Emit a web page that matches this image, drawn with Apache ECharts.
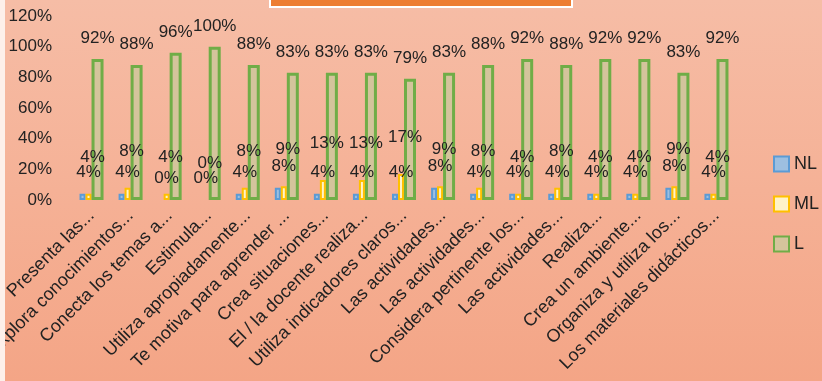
<!DOCTYPE html>
<html>
<head>
<meta charset="utf-8">
<script src="https://cdn.jsdelivr.net/npm/echarts@6/dist/echarts.min.js"></script>
<style>html,body{margin:0;padding:0;background:#fff}#c{width:822px;height:381px}</style>
</head>
<body>
<div id="c"></div>
<script>
const categories = ["Presenta las...","Explora conocimientos...","Conecta los temas a...","Estimula...","Utiliza apropiadamente...","Te motiva para aprender ...","Crea situaciones...","El / la docente realiza...","Utiliza indicadores claros...","Las actividades...","Las actividades...","Considera pertinente los...","Las actividades...","Realiza...","Crea un ambiente...","Organiza y utiliza los...","Los materiales didácticos..."];
const seriesNames = ["NL","ML","L"];
const nlValues = [4,4,0,0,4,8,4,4,4,8,4,4,4,4,4,8,4];
const mlValues = [4,8,4,0,8,9,13,13,17,9,8,4,8,4,4,9,4];
const lValues  = [92,88,96,100,88,83,83,83,79,83,88,92,88,92,92,83,92];
const yTicks = [0,20,40,60,80,100,120];

const FONT = "Liberation Sans";
const TXT = "#222";
const chart = echarts.init(document.getElementById('c'), null, {renderer:'canvas'});
function lbl(dist, off){
  return {show:true, position:'top', distance:dist, offset:off, formatter:'{c}%', color:TXT, fontFamily:FONT, fontSize:17};
}
// zero-height bars draw no outline (as in the reference), label still shown
function items(arr){
  return arr.map(v => v === 0 ? {value:v, itemStyle:{borderWidth:0, color:'rgba(0,0,0,0)'}} : v);
}
chart.setOption({
  animation:false,
  backgroundColor:{type:'linear',x:0,y:0,x2:0,y2:1,colorStops:[{offset:0,color:'#f6bda6'},{offset:1,color:'#f4a586'}]},
  graphic:[
    {type:'rect', shape:{x:0,y:0,width:5,height:381}, style:{fill:'#fdf0ea'}, z:100},
    {type:'rect', shape:{x:270,y:-6,width:302,height:13}, style:{fill:'#ed7d31', stroke:'#fff', lineWidth:2}, z:100}
  ],
  grid:{left:72, right:86, top:16, bottom:181, containLabel:false, outerBoundsMode:'none'},
  legend:{
    orient:'vertical', left:768, top:150, itemGap:22, itemWidth:15, itemHeight:15, icon:'rect',
    data:seriesNames,
    textStyle:{color:TXT, fontFamily:FONT, fontSize:18}
  },
  xAxis:{
    type:'category', data:categories,
    axisLine:{show:false}, axisTick:{show:false},
    axisLabel:{rotate:45, interval:0, margin:13, color:TXT, fontFamily:FONT, fontSize:18}
  },
  yAxis:{
    type:'value', min:yTicks[0], max:yTicks[yTicks.length-1], interval:20,
    splitLine:{show:false}, axisLine:{show:false}, axisTick:{show:false},
    axisLabel:{formatter:'{value}%', color:TXT, fontFamily:FONT, fontSize:17, margin:20}
  },
  series:[
    {name:seriesNames[0], type:'bar', data:items(nlValues), barWidth:6, barGap:'0%',
     itemStyle:{color:'#9dbfe0', borderColor:'#5b9bd5', borderWidth:2},
     label:lbl(13,[6,0])},
    {name:seriesNames[1], type:'bar', data:items(mlValues), barWidth:6, barGap:'0%',
     itemStyle:{color:'#fff3c8', borderColor:'#ffc000', borderWidth:2},
     label:lbl(28,[4,0])},
    {name:seriesNames[2], type:'bar', data:items(lValues), barWidth:12, barGap:'0%',
     itemStyle:{color:'#d4c49c', borderColor:'#70ad47', borderWidth:3},
     label:lbl(12,[0,0])}
  ]
});
</script>
</body>
</html>
